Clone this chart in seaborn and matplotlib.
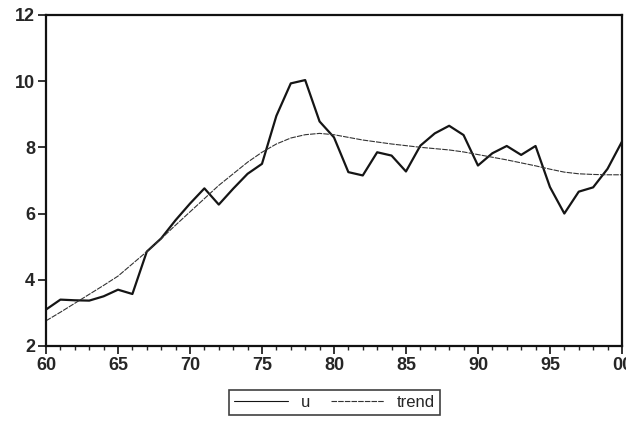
import numpy as np
import pandas as pd
import seaborn as sns
import matplotlib.pyplot as plt

# data
years = list(range(1960, 2001))
u = [3.10, 3.40, 3.38, 3.37, 3.50, 3.70, 3.57, 4.85, 5.25, 5.80,
     6.30, 6.76, 6.27, 6.75, 7.20, 7.50, 8.95, 9.93, 10.03, 8.78,
     8.30, 7.25, 7.15, 7.85, 7.75, 7.27, 8.05, 8.42, 8.65, 8.37,
     7.45, 7.82, 8.04, 7.77, 8.04, 6.80, 6.00, 6.66, 6.79, 7.35,
     8.17]
trend = [2.76, 3.02, 3.29, 3.56, 3.83, 4.11, 4.48, 4.85, 5.24, 5.65,
         6.05, 6.45, 6.85, 7.20, 7.55, 7.85, 8.10, 8.28, 8.38, 8.42,
         8.38, 8.30, 8.22, 8.16, 8.10, 8.05, 8.00, 7.96, 7.92, 7.86,
         7.78, 7.70, 7.62, 7.53, 7.44, 7.34, 7.25, 7.20, 7.18, 7.17,
         7.17]
x_ticks = [1960, 1965, 1970, 1975, 1980, 1985, 1990, 1995, 2000]
x_labels = ["60", "65", "70", "75", "80", "85", "90", "95", "00"]
y_ticks = [2, 4, 6, 8, 10, 12]

df = pd.DataFrame({"year": years, "u": u, "trend": trend})

sns.set_theme(style="ticks")
plt.rcParams["font.family"] = ["Liberation Sans", "DejaVu Sans"]

fig = plt.figure(figsize=(6.26, 4.24), dpi=100)
ax = fig.add_axes([0.0735, 0.184, 0.920, 0.781])

sns.lineplot(data=df, x="year", y="u", ax=ax, color="#151515", lw=1.6, label="u")
sns.lineplot(data=df, x="year", y="trend", ax=ax, color="#333333", lw=0.8,
             linestyle=(0, (5, 1)), label="trend")

ax.set_xlim(1960, 2000)
ax.set_ylim(2, 12)
ax.set_xticks(x_ticks)
ax.set_xticklabels(x_labels)
ax.set_xticks(years, minor=True)
ax.set_yticks(y_ticks)
ax.set_xlabel("")
ax.set_ylabel("")
ax.tick_params(axis="both", which="major", labelsize=13, length=6, width=1.2,
               direction="out", color="#111111", pad=2)
ax.tick_params(axis="x", which="minor", length=3, width=1.0, direction="out")
for lab in ax.get_xticklabels() + ax.get_yticklabels():
    lab.set_fontweight("bold")
for s in ax.spines.values():
    s.set_visible(True)
    s.set_linewidth(1.6)
    s.set_color("#111111")

leg = ax.legend(loc="center", bbox_to_anchor=(0.535, 0.05), bbox_transform=fig.transFigure,
                ncol=2, frameon=True, fancybox=False, fontsize=12,
                handlelength=3.2, columnspacing=1.2, borderpad=0.3)
leg.get_frame().set_edgecolor("#111111")
leg.get_frame().set_linewidth(1.2)
for h in leg.get_lines():
    h.set_linewidth(0.8)

fig.savefig("out.png", dpi=100)
